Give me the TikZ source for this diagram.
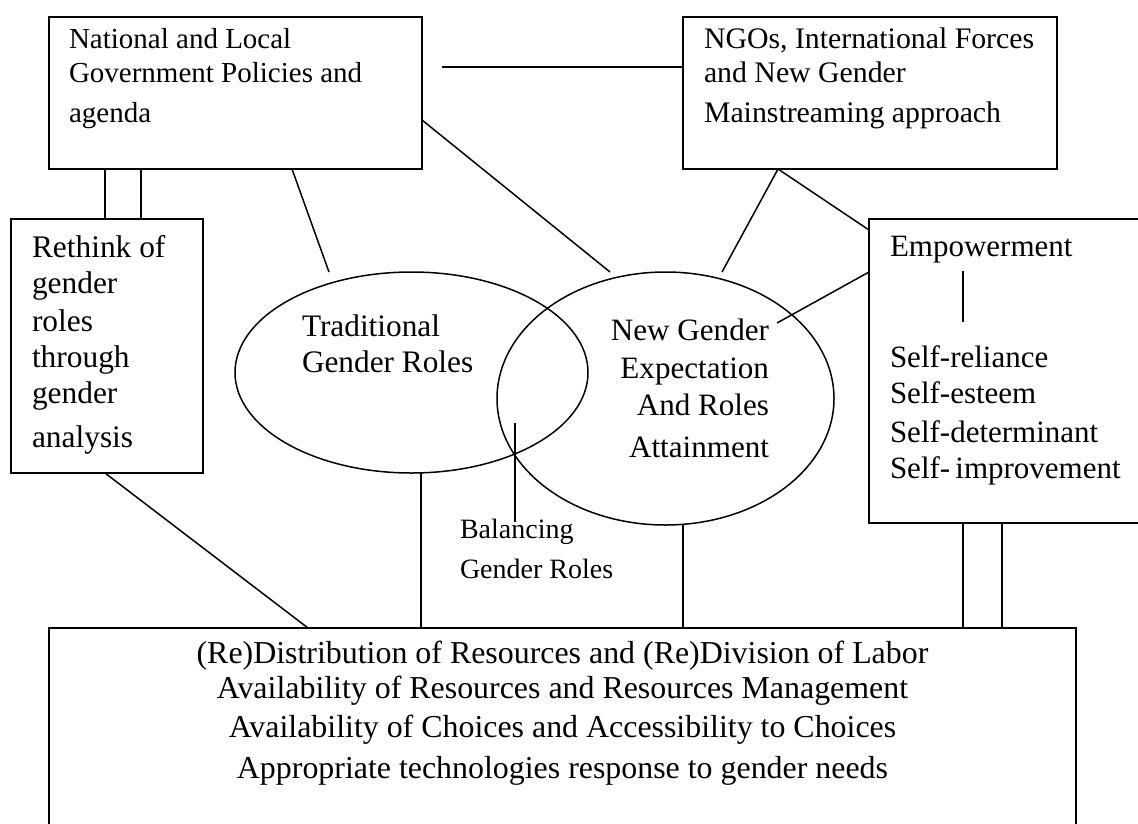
\documentclass[tikz,border=0pt]{standalone}
\usepackage{fontspec}
\setmainfont{Liberation Serif}
\usetikzlibrary{shapes.geometric}
\tikzset{
  box/.style={draw, rectangle, line width=1.6pt, inner sep=0pt, outer sep=0pt},
  oval/.style={draw, ellipse, line width=1.5pt, inner sep=0pt, outer sep=0pt},
  txt/.style={inner sep=0pt, outer sep=0pt},
  link/.style={line width=1.5pt},
}
\begin{document}
\begin{tikzpicture}[x=1pt,y=-1pt]
\useasboundingbox (0,0) rectangle (1138,823);
\clip (0,0) rectangle (1138,823);
\fill[white] (0,0) rectangle (1138,823);

% boxes
\node[box, minimum width=373pt, minimum height=152pt] (gov) at (235.5,93) {};
\node[box, minimum width=374pt, minimum height=152pt] (ngo) at (870,93) {};
\node[box, minimum width=192pt, minimum height=254pt] (rethink) at (107,346) {};
\node[box, minimum width=281pt, minimum height=304pt] (emp) at (1009.5,371) {};
\node[box, minimum width=1027pt, minimum height=212pt] (res) at (562.5,734) {};

% overlapping ovals
\node[oval, minimum width=353pt, minimum height=201pt] (trad) at (411.5,372.5) {};
\node[oval, minimum width=337pt, minimum height=253pt] (newg) at (665.5,398.5) {};

% texts
\node[txt, anchor=north west, align=left, font=\fontsize{29}{34}\selectfont] (govtext) at (69,28.2)
  {National and Local\\Government Policies and\\[6pt]agenda};
\node[txt, anchor=north west, align=left, font=\fontsize{29.8}{34}\selectfont] (ngotext) at (704,27.6)
  {NGOs, International Forces\\and New Gender\\[6pt]Mainstreaming approach};
\node[txt, anchor=north west, align=left, font=\fontsize{31.4}{36}\selectfont] (rethinktext) at (32,235.6)
  {Rethink of\\gender\\[2pt]roles\\through\\gender\\[8pt]analysis};
\node[txt, anchor=north west, align=left, font=\fontsize{31.3}{36}\selectfont] (tradtext) at (302,314.6)
  {Traditional\\Gender Roles};
\node[txt, anchor=north east, align=right, font=\fontsize{31.1}{37}\selectfont] (newtext) at (769,318.7)
  {New Gender\\[1pt]Expectation\\And Roles\\[5pt]Attainment};
\node[txt, anchor=north west, align=left, font=\fontsize{28}{40}\selectfont] (baltext) at (460,518.9)
  {Balancing\\Gender Roles};
\node[txt, anchor=north west, font=\fontsize{31}{36}\selectfont] (emptext) at (890,236.5) {Empowerment};
\node[txt, anchor=north west, align=left, font=\fontsize{31}{36}\selectfont] (selftext) at (890,345.8)
  {Self-reliance\\Self-esteem\\[3pt]Self-determinant\\Self-\,improvement};
\node[txt, anchor=north, align=center, font=\fontsize{31.9}{35}\selectfont] (restext) at (562.5,640.9)
  {(Re)Distribution of Resources and (Re)Division of Labor\\Availability of Resources and Resources Management\\[4pt]Availability of Choices and Accessibility to Choices\\[6pt]Appropriate technologies response to gender needs};

% free ends of the connectors
\coordinate (govgap) at (442,67);
\coordinate (tradtop) at (329,272);
\coordinate (newtopl) at (610,272);
\coordinate (newtopr) at (722,272);
\coordinate (newinner) at (777,323);
\coordinate (emptick1) at (963,271);
\coordinate (emptick2) at (963,322);
\coordinate (baltop) at (515,423);
\coordinate (balbot) at (515,522);

% connectors
\draw[link] (govgap) -- (ngo.west |- govgap);
\draw[link] (105,0 |- gov.south) -- (105,0 |- rethink.north);
\draw[link] (141,0 |- gov.south) -- (141,0 |- rethink.north);
\draw[link] (292,0 |- gov.south) -- (tradtop);
\draw[link] (gov.east |- 0,120) -- (newtopl);
\draw[link] (778,0 |- ngo.south) -- (newtopr);
\draw[link] (778,0 |- ngo.south) -- (emp.west |- 0,230);
\draw[link] (emp.west |- 0,272) -- (newinner);
\draw[link] (emptick1) -- (emptick2);
\draw[link] (baltop) -- (balbot);
\draw[link] (105,0 |- rethink.south) -- (308,0 |- res.north);
\draw[link] (421,0 |- trad.south) -- (421,0 |- res.north);
\draw[link] (683,0 |- newg.south) -- (683,0 |- res.north);
\draw[link] (963,0 |- emp.south) -- (963,0 |- res.north);
\draw[link] (1002,0 |- emp.south) -- (1002,0 |- res.north);
\end{tikzpicture}
\end{document}
